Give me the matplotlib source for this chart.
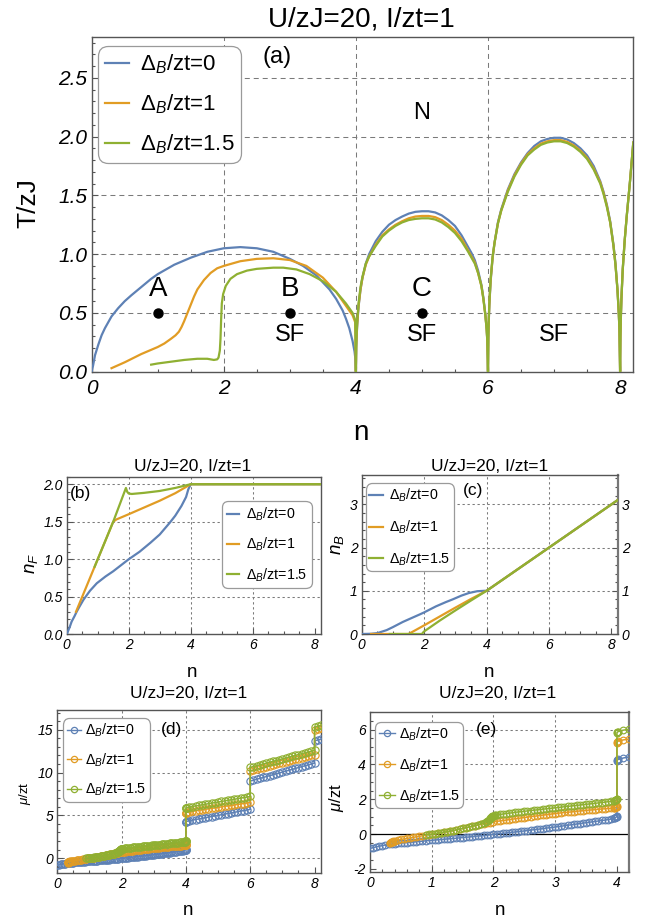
import numpy as np
import matplotlib
matplotlib.use("Agg")
import matplotlib.pyplot as plt
from matplotlib.lines import Line2D
from matplotlib.ticker import MultipleLocator

plt.rcParams['font.family'] = ['Liberation Sans', 'DejaVu Sans']
plt.rcParams['mathtext.fontset'] = 'custom'
plt.rcParams['mathtext.rm'] = 'Liberation Sans'
plt.rcParams['mathtext.it'] = 'Liberation Sans:italic'
plt.rcParams['mathtext.bf'] = 'Liberation Sans:bold'

# ---------------- data ----------------
BLUE, ORANGE, GREEN = "#5E81B5", "#E19C24", "#8FB032"
COLORS = [BLUE, ORANGE, GREEN]
LABELS = [r"$\Delta_B$/zt=0", r"$\Delta_B$/zt=1", r"$\Delta_B$/zt=1.5"]
TITLE = "U/zJ=20, I/zt=1"

# panel (a): T/zJ vs n, first dome (different for each series)
A1_N_BLUE = [0, 0.01, 0.02, 0.05, 0.1, 0.15, 0.2, 0.3, 0.4, 0.5, 0.6, 0.75, 0.9, 1.0, 1.25, 1.5, 1.75,
             2.0, 2.25, 2.5, 2.75, 3.0, 3.2, 3.4, 3.5, 3.6, 3.7, 3.8, 3.85, 3.9, 3.95, 3.98, 3.99, 4.0]
A1_T_BLUE = [0, 0.03, 0.05, 0.14, 0.23, 0.31, 0.37, 0.47, 0.54, 0.60, 0.65, 0.72, 0.79, 0.83, 0.91, 0.97, 1.02,
             1.05, 1.06, 1.05, 1.02, 0.96, 0.90, 0.82, 0.76, 0.70, 0.62, 0.52, 0.45, 0.37, 0.26, 0.17, 0.12, 0]
A1_N_ORANGE = [0.3, 0.5, 0.75, 1.0, 1.1, 1.2, 1.27, 1.32, 1.36, 1.4, 1.45, 1.5, 1.55, 1.6, 1.7, 1.8, 1.9,
               2.0, 2.25, 2.5, 2.75, 3.0, 3.25, 3.5, 3.7, 3.85, 3.95, 3.99, 4.0]
A1_T_ORANGE = [0.03, 0.08, 0.15, 0.21, 0.24, 0.28, 0.31, 0.34, 0.38, 0.43, 0.50, 0.57, 0.64, 0.70, 0.78, 0.84, 0.88,
               0.90, 0.94, 0.96, 0.965, 0.95, 0.90, 0.80, 0.68, 0.56, 0.48, 0.42, 0]
A1_N_GREEN = [0.9, 1.0, 1.2, 1.4, 1.6, 1.75, 1.85, 1.9, 1.92, 1.94, 1.95, 1.96, 1.97, 1.99, 2.03, 2.1,
              2.2, 2.35, 2.5, 2.75, 2.9, 3.1, 3.3, 3.5, 3.7, 3.85, 3.95, 3.99, 4.0]
A1_T_GREEN = [0.06, 0.07, 0.085, 0.10, 0.11, 0.11, 0.10, 0.105, 0.12, 0.18, 0.28, 0.45, 0.58, 0.66, 0.73, 0.79,
              0.83, 0.86, 0.875, 0.885, 0.885, 0.87, 0.83, 0.77, 0.68, 0.58, 0.50, 0.44, 0]
# second dome (4 < n < 6)
A2_N = [4.0, 4.005, 4.01, 4.02, 4.04, 4.07, 4.1, 4.15, 4.2, 4.3, 4.4, 4.5, 4.6, 4.7, 4.8, 4.9, 5.0,
        5.1, 5.2, 5.3, 5.4, 5.5, 5.6, 5.7, 5.75, 5.8, 5.85, 5.9, 5.93, 5.96, 5.98, 5.99, 6.0]
A2_T_BLUE = [0, 0.20, 0.28, 0.40, 0.55, 0.70, 0.80, 0.92, 1.00, 1.11, 1.19, 1.25, 1.29, 1.32, 1.345, 1.36, 1.365,
             1.365, 1.355, 1.33, 1.29, 1.24, 1.16, 1.06, 1.01, 0.95, 0.86, 0.74, 0.63, 0.49, 0.36, 0.26, 0]
A2_T_ORANGE = [0, 0.21, 0.29, 0.41, 0.56, 0.70, 0.80, 0.91, 0.98, 1.08, 1.16, 1.21, 1.25, 1.28, 1.305, 1.32, 1.325,
               1.325, 1.315, 1.29, 1.25, 1.20, 1.13, 1.03, 0.98, 0.93, 0.84, 0.73, 0.62, 0.48, 0.36, 0.26, 0]
A2_T_GREEN = [0, 0.23, 0.31, 0.43, 0.58, 0.72, 0.81, 0.92, 0.98, 1.07, 1.15, 1.20, 1.24, 1.27, 1.29, 1.30, 1.305,
              1.305, 1.295, 1.27, 1.23, 1.18, 1.11, 1.02, 0.97, 0.92, 0.84, 0.73, 0.62, 0.48, 0.36, 0.26, 0]
# third dome (6 < n < 8)
A3_N = [6.0, 6.005, 6.01, 6.02, 6.04, 6.07, 6.1, 6.15, 6.2, 6.3, 6.4, 6.5, 6.6, 6.7, 6.8, 6.9, 7.0,
        7.1, 7.2, 7.3, 7.4, 7.5, 7.6, 7.7, 7.75, 7.8, 7.85, 7.9, 7.93, 7.96, 7.98, 7.99, 8.0]
A3_T_BLUE = [0, 0.28, 0.40, 0.56, 0.77, 0.97, 1.10, 1.27, 1.38, 1.55, 1.68, 1.78, 1.86, 1.92, 1.96, 1.98, 1.99,
             1.99, 1.975, 1.945, 1.90, 1.84, 1.75, 1.62, 1.53, 1.42, 1.28, 1.08, 0.92, 0.70, 0.50, 0.36, 0]
A3_T_ORANGE = [0, 0.29, 0.41, 0.57, 0.78, 0.97, 1.10, 1.26, 1.37, 1.54, 1.67, 1.77, 1.85, 1.90, 1.94, 1.96, 1.97,
               1.97, 1.955, 1.925, 1.88, 1.82, 1.73, 1.61, 1.52, 1.41, 1.27, 1.07, 0.91, 0.70, 0.50, 0.36, 0]
A3_T_GREEN = [0, 0.30, 0.42, 0.58, 0.79, 0.98, 1.10, 1.26, 1.37, 1.53, 1.66, 1.76, 1.84, 1.89, 1.93, 1.95, 1.96,
              1.96, 1.945, 1.915, 1.87, 1.81, 1.72, 1.60, 1.51, 1.40, 1.27, 1.07, 0.91, 0.70, 0.50, 0.36, 0]
# start of fourth dome (n > 8)
A4_N = [8.0, 8.005, 8.01, 8.02, 8.04, 8.07, 8.1, 8.15, 8.2]
A4_T = [0, 0.30, 0.43, 0.62, 0.87, 1.12, 1.32, 1.62, 1.95]

POINT_N = [1, 3, 5]
POINT_T = [0.5, 0.5, 0.5]
POINT_NAMES = ["A", "B", "C"]
SF_N = [3, 5, 7]

# panel (b): n_F vs n
NF_N_BLUE = [0, 0.05, 0.1, 0.16, 0.25, 0.32, 0.4, 0.54, 0.75, 0.97, 1.25, 1.5, 1.75, 2.0, 2.35, 2.7,
             3.0, 3.33, 3.5, 3.7, 3.85, 3.92, 4.0, 8.2]
NF_BLUE = [0, 0.05, 0.1, 0.17, 0.24, 0.3, 0.36, 0.46, 0.58, 0.68, 0.77, 0.84, 0.92, 1.0, 1.1, 1.22,
           1.33, 1.49, 1.58, 1.71, 1.83, 1.93, 2.0, 2.0]
NF_N_ORANGE = [0.3, 0.9, 1.5, 1.6, 2.0, 2.5, 3.0, 3.5, 4.0, 8.2]
NF_ORANGE = [0.3, 0.9, 1.5, 1.53, 1.6, 1.69, 1.78, 1.88, 2.0, 2.0]
NF_N_GREEN = [0.9, 1.5, 1.91, 1.95, 2.0, 2.1, 2.5, 3.0, 3.5, 4.0, 8.2]
NF_GREEN = [0.9, 1.5, 1.95, 1.90, 1.875, 1.87, 1.885, 1.91, 1.95, 2.0, 2.0]

# panel (c): n_B vs n
NB_N_BLUE = [0, 0.3, 0.5, 0.8, 1.0, 1.32, 1.6, 1.85, 2.0, 2.38, 2.7, 2.91, 3.2, 3.44, 3.7, 3.94, 4.0, 8.2]
NB_BLUE = [0, 0.005, 0.02, 0.09, 0.16, 0.28, 0.37, 0.45, 0.5, 0.64, 0.74, 0.8, 0.89, 0.95, 0.99, 1.0, 1.0, 3.1]
NB_N_ORANGE = [0.3, 1.5, 2.0, 2.5, 3.0, 3.5, 4.0, 8.2]
NB_ORANGE = [0, 0, 0.2, 0.405, 0.61, 0.81, 1.0, 3.1]
NB_N_GREEN = [0.9, 1.93, 1.96, 2.0, 2.5, 3.0, 3.5, 4.0, 8.2]
NB_GREEN = [0, 0, 0.03, 0.06, 0.31, 0.545, 0.775, 1.0, 3.1]

# panels (d), (e): mu/zt vs n  (sampled points)
MU_BLUE_1 = [-0.83, -0.78, -0.74, -0.70, -0.66, -0.63, -0.60, -0.58, -0.56, -0.54,   # n = 0.00 .. 0.45
             -0.52, -0.50, -0.49, -0.47, -0.46, -0.44, -0.42, -0.41, -0.39, -0.37,   # 0.50 .. 0.95
             -0.36, -0.34, -0.33, -0.31, -0.30, -0.28, -0.27, -0.25, -0.24, -0.22,   # 1.00 .. 1.45
             -0.20, -0.18, -0.17, -0.15, -0.13, -0.11, -0.10, -0.08, -0.06, -0.04,   # 1.50 .. 1.95
             -0.02, 0.00, 0.02, 0.04, 0.06, 0.08, 0.10, 0.12, 0.14, 0.16,            # 2.00 .. 2.45
             0.18, 0.20, 0.22, 0.25, 0.27, 0.29, 0.31, 0.34, 0.36, 0.38,             # 2.50 .. 2.95
             0.41, 0.43, 0.45, 0.48, 0.50, 0.53, 0.55, 0.58, 0.60, 0.63,             # 3.00 .. 3.45
             0.65, 0.68, 0.70, 0.73, 0.75, 0.78, 0.80, 0.83, 0.86, 0.90]             # 3.50 .. 3.95
MU_ORANGE_START_N = [0.32, 0.33, 0.34, 0.35, 0.36, 0.37, 0.38]
MU_ORANGE_START = [-0.52, -0.50, -0.48, -0.46, -0.44, -0.43, -0.41]
MU_ORANGE_1 = [-0.38, -0.34, -0.31, -0.28, -0.25, -0.22, -0.19, -0.16, -0.13,          # n = 0.40 .. 0.80
               -0.10, -0.07, -0.04, -0.02, 0.01, 0.04, 0.07, 0.10, 0.13, 0.17,         # 0.85 .. 1.30
               0.20, 0.24, 0.28, 0.32, 0.36, 0.40, 0.44, 0.48, 0.52, 0.56,             # 1.35 .. 1.80
               0.60, 0.63, 0.66, 0.70, 0.73, 0.75, 0.78, 0.80, 0.83, 0.85,             # 1.85 .. 2.30
               0.88, 0.90, 0.93, 0.95, 0.97, 1.00, 1.02, 1.04, 1.07, 1.09,             # 2.35 .. 2.80
               1.11, 1.13, 1.16, 1.18, 1.20, 1.22, 1.24, 1.25, 1.27, 1.29,             # 2.85 .. 3.30
               1.31, 1.33, 1.34, 1.36, 1.38, 1.39, 1.41, 1.42, 1.44, 1.45,             # 3.35 .. 3.80
               1.47, 1.48, 1.50]                                                       # 3.85 .. 3.95
MU_GREEN_1 = [-0.04, -0.02, -0.01, 0.02, 0.05, 0.08, 0.11, 0.14, 0.17, 0.20,          # n = 0.90 .. 1.35
              0.24, 0.28, 0.32, 0.36, 0.40, 0.44, 0.49, 0.54, 0.60, 0.66]             # 1.40 .. 1.85
MU_GREEN_BLOB_N = [1.88, 1.90, 1.92, 1.93, 1.94, 1.95, 1.96, 1.96, 1.97, 1.98, 1.99, 2.00, 2.01, 2.02, 2.03]
MU_GREEN_BLOB = [0.70, 0.74, 0.78, 0.82, 0.86, 0.90, 0.93, 0.96, 0.99, 1.01, 1.03, 1.05, 1.06, 1.07, 1.08]
MU_GREEN_1B = [1.10, 1.13, 1.15, 1.18, 1.20, 1.22, 1.25, 1.27, 1.29, 1.31,            # n = 2.05 .. 2.50
               1.33, 1.35, 1.37, 1.39, 1.41, 1.43, 1.45, 1.47, 1.49, 1.51,            # 2.55 .. 3.00
               1.53, 1.55, 1.57, 1.59, 1.61, 1.63, 1.65, 1.67, 1.69, 1.71,            # 3.05 .. 3.50
               1.73, 1.75, 1.77, 1.79, 1.81, 1.83, 1.86, 1.88, 1.91]                  # 3.55 .. 3.95
JUMP4_N = [3.96, 3.97, 3.98, 3.99, 4.0, 4.0, 4.0, 4.0, 4.01, 4.02]
MU_BLUE_J4 = [0.92, 0.94, 0.96, 0.98, 1.00, 1.03, 4.20, 4.24, 4.27, 4.29]
MU_ORANGE_J4 = [1.51, 1.52, 1.54, 1.56, 1.58, 1.62, 5.25, 5.29, 5.32, 5.34]
MU_GREEN_J4 = [1.92, 1.93, 1.95, 1.97, 1.99, 2.02, 5.80, 5.84, 5.87, 5.89]
MU_BLUE_2 = [4.37, 4.44, 4.51, 4.58, 4.65, 4.72, 4.79, 4.86, 4.93, 5.00,              # n = 4.1 .. 5.0
             5.07, 5.14, 5.21, 5.28, 5.35, 5.42, 5.49, 5.56, 5.63, 5.70]              # 5.1 .. 6.0
MU_ORANGE_2 = [5.41, 5.47, 5.52, 5.58, 5.64, 5.70, 5.75, 5.81, 5.87, 5.93,
               5.98, 6.04, 6.10, 6.15, 6.21, 6.27, 6.33, 6.38, 6.44, 6.50]
MU_GREEN_2 = [5.97, 6.03, 6.10, 6.16, 6.23, 6.29, 6.36, 6.42, 6.49, 6.55,
              6.62, 6.68, 6.75, 6.81, 6.88, 6.94, 7.01, 7.07, 7.14, 7.20]
MU_BLUE_3 = [9.00, 9.11, 9.21, 9.32, 9.42, 9.53, 9.63, 9.74, 9.84, 9.95, 10.05,       # n = 6.0 .. 8.0
             10.16, 10.26, 10.37, 10.47, 10.58, 10.68, 10.79, 10.89, 11.00, 11.10]
MU_ORANGE_3 = [10.20, 10.30, 10.39, 10.49, 10.58, 10.68, 10.77, 10.87, 10.96, 11.06, 11.15,
               11.25, 11.34, 11.44, 11.53, 11.63, 11.72, 11.82, 11.91, 12.01, 12.10]
MU_GREEN_3 = [10.60, 10.70, 10.80, 10.90, 11.00, 11.10, 11.20, 11.30, 11.40, 11.50, 11.60,
              11.70, 11.80, 11.90, 12.00, 12.10, 12.20, 12.30, 12.40, 12.50, 12.60]
MU_BLUE_4 = [13.70, 13.80, 13.90]                                                     # n = 8.0 .. 8.2
MU_ORANGE_4 = [15.00, 15.10, 15.20]
MU_GREEN_4 = [15.30, 15.40, 15.50]


def grid(a, b, vals):
    return list(np.round(np.linspace(a, b, len(vals)), 3)), list(vals)


def cat(*parts):
    ns, ms = [], []
    for n, m in parts:
        ns += list(n)
        ms += list(m)
    return ns, ms


MU_SERIES = [
    cat(grid(0.0, 3.95, MU_BLUE_1), (JUMP4_N, MU_BLUE_J4), grid(4.1, 6.0, MU_BLUE_2),
        grid(6.0, 8.0, MU_BLUE_3), grid(8.0, 8.2, MU_BLUE_4)),
    cat((MU_ORANGE_START_N, MU_ORANGE_START), grid(0.40, 3.95, MU_ORANGE_1), (JUMP4_N, MU_ORANGE_J4),
        grid(4.1, 6.0, MU_ORANGE_2), grid(6.0, 8.0, MU_ORANGE_3), grid(8.0, 8.2, MU_ORANGE_4)),
    cat(grid(0.90, 1.85, MU_GREEN_1), (MU_GREEN_BLOB_N, MU_GREEN_BLOB), grid(2.05, 3.95, MU_GREEN_1B),
        (JUMP4_N, MU_GREEN_J4), grid(4.1, 6.0, MU_GREEN_2), grid(6.0, 8.0, MU_GREEN_3),
        grid(8.0, 8.2, MU_GREEN_4)),
]

# ---------------- figure ----------------
W, H = 647, 921
fig = plt.figure(figsize=(W / 100, H / 100), dpi=100)


def rect(l, t, r, b):
    return [l / W, 1 - b / H, (r - l) / W, (b - t) / H]


def fx(x):
    return x / W


def fy(y):
    return 1 - y / H


SPINE = "#555555"
GRIDC = "#7a7a7a"


def style(ax, xt, xl, yt, yl, fs, xminor, yminor, lab_pad=(5, 3), right_labels=False):
    for s in ax.spines.values():
        s.set_color(SPINE)
        s.set_linewidth(1.0)
    ax.set_xticks(xt, labels=xl, fontstyle='italic', fontsize=fs)
    ax.set_yticks(yt, labels=yl, fontstyle='italic', fontsize=fs)
    ax.xaxis.set_minor_locator(MultipleLocator(xminor))
    ax.yaxis.set_minor_locator(MultipleLocator(yminor))
    ax.tick_params(which='both', direction='in', top=False, right=right_labels,
                   colors=SPINE, labelcolor='black', width=0.8)
    ax.tick_params(which='major', length=4.5)
    ax.tick_params(which='minor', length=2.5)
    ax.tick_params(axis='x', which='major', pad=lab_pad[0])
    ax.tick_params(axis='y', which='major', pad=lab_pad[1])
    if right_labels:
        ax.tick_params(axis='y', which='both', labelright=True)


def gridlines(ax, xs, ys, dashes, lw=0.75):
    for x in xs:
        ax.axvline(x, color=GRIDC, lw=lw, dashes=dashes, zorder=1)
    for y in ys:
        ax.axhline(y, color=GRIDC, lw=lw, dashes=dashes, zorder=1)


def legend(ax, handles, x, y, fs, spacing, hlen, pad=0.4, tpad=0.6):
    lg = ax.legend(handles=handles, labels=LABELS, loc='upper left',
                   bbox_to_anchor=(fx(x), fy(y)), bbox_transform=fig.transFigure,
                   borderaxespad=0, fontsize=fs, labelspacing=spacing,
                   handlelength=hlen, handletextpad=tpad, borderpad=pad,
                   frameon=True, fancybox=True, framealpha=1)
    fr = lg.get_frame()
    fr.set_edgecolor("#9a9a9a")
    fr.set_linewidth(0.9)
    fr.set_boxstyle("round,pad=0,rounding_size=0.45")
    lg.set_zorder(10)
    return lg


XT = [0, 2, 4, 6, 8]
XL = ["0", "2", "4", "6", "8"]

# ---------- panel (a) ----------
ax = fig.add_axes(rect(91.7, 36.7, 633.3, 371.7))
ax.set_xlim(0, 8.2)
ax.set_ylim(0, 2.85)
gridlines(ax, [2, 4, 6], [0.5, 1.0, 1.5, 2.0, 2.5], (4.8, 3.8))
a_series = [
    (A1_N_BLUE + A2_N + A3_N + A4_N, A1_T_BLUE + A2_T_BLUE + A3_T_BLUE + A4_T),
    (A1_N_ORANGE + A2_N + A3_N + A4_N, A1_T_ORANGE + A2_T_ORANGE + A3_T_ORANGE + A4_T),
    (A1_N_GREEN + A2_N + A3_N + A4_N, A1_T_GREEN + A2_T_GREEN + A3_T_GREEN + A4_T),
]
for (n, t), c in zip(a_series, COLORS):
    ax.plot(n, t, color=c, lw=1.6, zorder=3, solid_joinstyle='round')
ax.plot(POINT_N, POINT_T, 'o', color='black', ms=6.5, zorder=5)
for n, t, s in zip(POINT_N, POINT_T, POINT_NAMES):
    ax.text(n, t + 0.2, s, fontsize=20, ha='center', va='center', zorder=5)
for n in SF_N:
    ax.text(n, 0.31, "SF", fontsize=17, ha='center', va='center', zorder=5)
ax.text(5, 2.2, "N", fontsize=17, ha='center', va='center', zorder=5)
ax.text(2.8, 2.68, "(a)", fontsize=17, ha='center', va='center', zorder=5)
style(ax, XT, XL, [0, 0.5, 1.0, 1.5, 2.0, 2.5], ["0.0", "0.5", "1.0", "1.5", "2.0", "2.5"],
      15, 0.5, 0.1, lab_pad=(5, 3))
legend(ax, [Line2D([], [], color=c, lw=1.6) for c in COLORS], 98, 46, 16, 0.74, 1.1, pad=0.3, tpad=0.5)
fig.text(fx(361), fy(26.7), TITLE, fontsize=20, ha='center', va='baseline')
fig.text(fx(361), fy(440), "n", fontsize=20, ha='center', va='baseline')
fig.text(fx(28), fy(203), "T/zJ", fontsize=19, ha='center', va='center', rotation=90)

# ---------- panel (b) ----------
ax = fig.add_axes(rect(66.7, 476.7, 321, 634.3))
ax.set_xlim(0, 8.2)
ax.set_ylim(0, 2.1)
gridlines(ax, [2, 4, 6], [0.5, 1.0, 1.5, 2.0], (2.2, 2.6))
for (n, v), c in zip([(NF_N_BLUE, NF_BLUE), (NF_N_ORANGE, NF_ORANGE), (NF_N_GREEN, NF_GREEN)], COLORS):
    ax.plot(n, v, color=c, lw=1.6, zorder=3, solid_joinstyle='round')
ax.text(0.43, 1.88, "(b)", fontsize=12.5, ha='center', va='center')
style(ax, XT, XL, [0, 0.5, 1.0, 1.5, 2.0], ["0.0", "0.5", "1.0", "1.5", "2.0"], 10, 0.5, 0.1,
      lab_pad=(3, 3))
legend(ax, [Line2D([], [], color=c, lw=1.6) for c in COLORS], 222, 501, 10.3, 0.9, 0.85, pad=0.33, tpad=0.47)
fig.text(fx(193), fy(470.7), TITLE, fontsize=12.5, ha='center', va='baseline')
fig.text(fx(192), fy(676.7), "n", fontsize=13.5, ha='center', va='baseline')
fig.text(fx(31.7), fy(563), r"$n_F$", fontsize=13.5, ha='center', va='center', rotation=90)

# ---------- panel (c) ----------
ax = fig.add_axes(rect(361.7, 475, 617.7, 634))
ax.set_xlim(0, 8.2)
ax.set_ylim(0, 3.68)
gridlines(ax, [2, 4, 6], [1, 2, 3], (2.2, 2.6))
for (n, v), c in zip([(NB_N_BLUE, NB_BLUE), (NB_N_ORANGE, NB_ORANGE), (NB_N_GREEN, NB_GREEN)], COLORS):
    ax.plot(n, v, color=c, lw=1.6, zorder=3, solid_joinstyle='round')
ax.text(3.57, 3.33, "(c)", fontsize=12.5, ha='center', va='center')
style(ax, XT, XL, [0, 1, 2, 3], ["0", "1", "2", "3"], 10, 0.5, 0.2, lab_pad=(3, 3), right_labels=True)
ax.spines['right'].set_linewidth(1.6)
ax.spines['right'].set_color("#777777")
legend(ax, [Line2D([], [], color=c, lw=1.6) for c in COLORS], 365.7, 483.3, 10.3, 1.0, 0.95, pad=0.25, tpad=0.46)
fig.text(fx(489.5), fy(470.7), TITLE, fontsize=12.5, ha='center', va='baseline')
fig.text(fx(489), fy(676.7), "n", fontsize=13.5, ha='center', va='baseline')
fig.text(fx(337.5), fy(545), r"$n_B$", fontsize=13.5, ha='center', va='center', rotation=90)


def mu_handles():
    return [Line2D([], [], color=c, lw=1.0, marker='o', mfc='none', mec=c, ms=4.5, mew=0.9) for c in COLORS]


def mu_plot(ax, ms):
    for (n, m), c in zip(MU_SERIES, COLORS):
        ax.plot(n, m, color=c, lw=1.1, marker='o', mfc='none', mec=c, ms=ms, mew=0.85, zorder=3)


# ---------- panel (d) ----------
ax = fig.add_axes(rect(57.3, 710, 321, 872.7))
ax.set_xlim(0, 8.2)
ax.set_ylim(-1.7, 17.3)
gridlines(ax, [2, 4, 6], [0, 5, 10, 15], (2.2, 2.6))
mu_plot(ax, 5.2)
ax.text(3.56, 15.0, "(d)", fontsize=12.5, ha='center', va='center', zorder=6)
style(ax, XT, XL, [0, 5, 10, 15], ["0", "5", "10", "15"], 10, 0.5, 1, lab_pad=(3, 3))
legend(ax, mu_handles(), 63, 718.3, 10.3, 0.85, 1.0, pad=0.25, tpad=0.3)
fig.text(fx(189), fy(698.3), TITLE, fontsize=12.5, ha='center', va='baseline')
fig.text(fx(188), fy(915), "n", fontsize=13.5, ha='center', va='baseline')
fig.text(fx(25), fy(793), r"$\mu$/zt", fontsize=9.5, ha='center', va='center', rotation=90)

# ---------- panel (e) ----------
ax = fig.add_axes(rect(370, 712.3, 629.3, 872.3))
ax.set_xlim(0, 4.2)
ax.set_ylim(-2.2, 7.0)
gridlines(ax, [1, 2, 3], [2, 4, 6], (2.2, 2.6))
ax.axhline(0, color='black', lw=0.9, zorder=2)
mu_plot(ax, 4.8)
ax.text(1.89, 6.0, "(e)", fontsize=12.5, ha='center', va='center', zorder=6)
style(ax, [0, 1, 2, 3, 4], ["0", "1", "2", "3", "4"], [-2, 0, 2, 4, 6], ["-2", "0", "2", "4", "6"],
      10, 0.2, 0.5, lab_pad=(3, 3))
ax.spines['right'].set_linewidth(1.6)
ax.spines['right'].set_color("#777777")
legend(ax, mu_handles(), 375, 721.7, 10.3, 0.95, 1.15, pad=0.25, tpad=0.25)
fig.text(fx(498), fy(698.3), TITLE, fontsize=12.5, ha='center', va='baseline')
fig.text(fx(500), fy(915), "n", fontsize=13.5, ha='center', va='baseline')
fig.text(fx(337), fy(798), r"$\mu$/zt", fontsize=12, ha='center', va='center', rotation=90)

fig.savefig("out.png", dpi=100)
